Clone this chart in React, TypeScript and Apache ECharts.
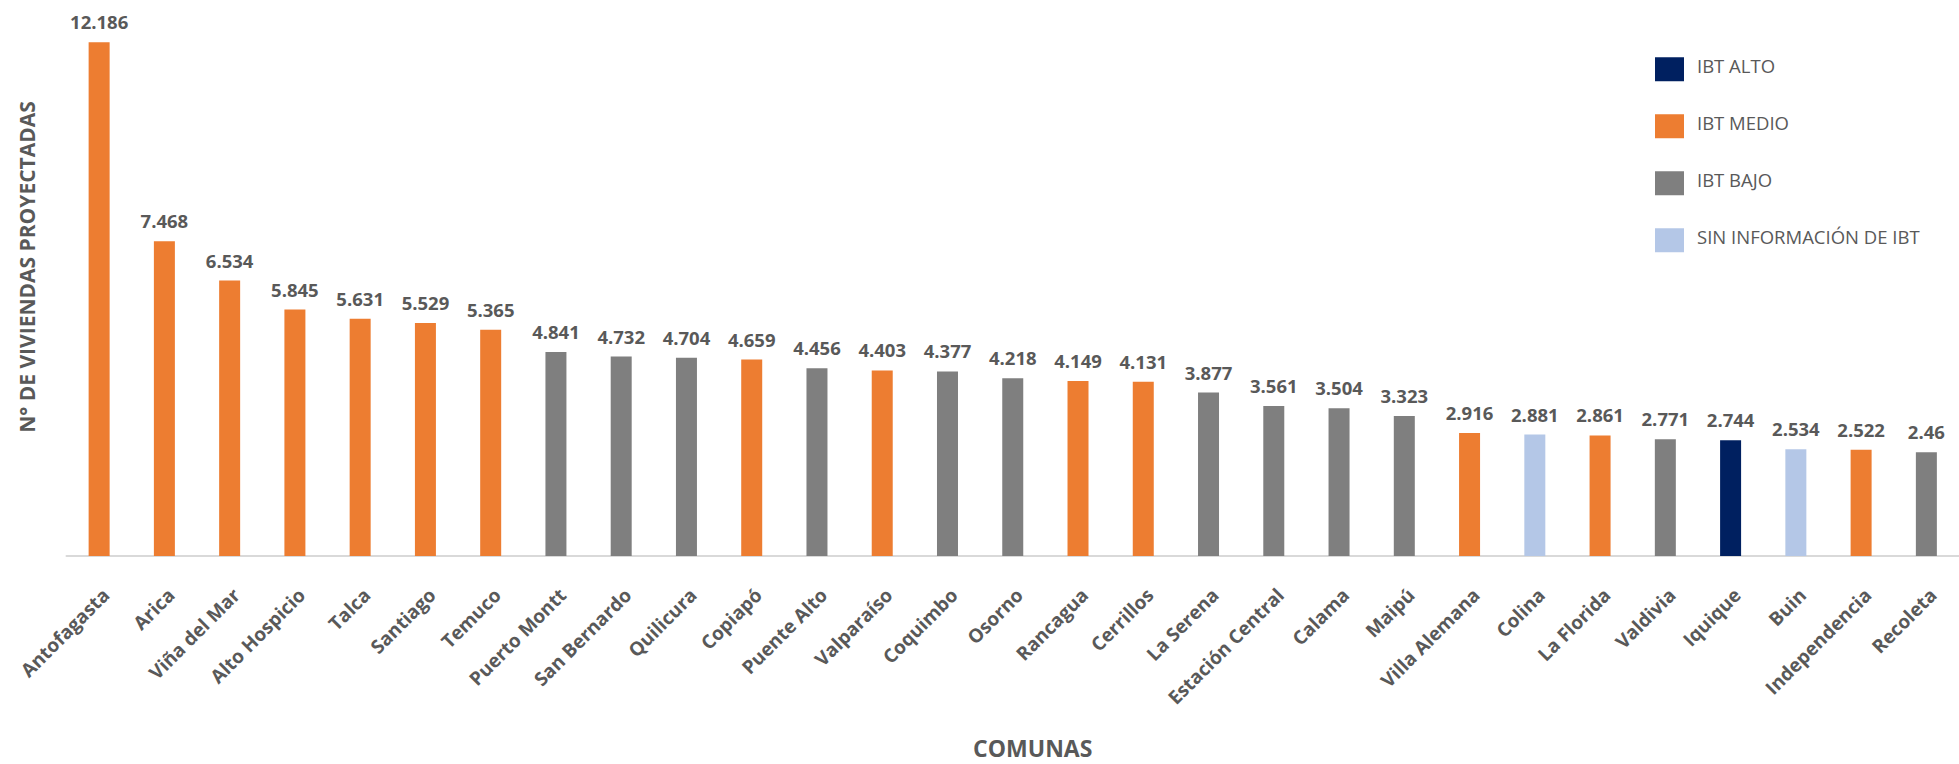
import React, { useEffect, useRef } from "react";
import * as echarts from "echarts";

const comunas = [
  "Antofagasta", "Arica", "Viña del Mar", "Alto Hospicio", "Talca", "Santiago", "Temuco",
  "Puerto Montt", "San Bernardo", "Quilicura", "Copiapó", "Puente Alto", "Valparaíso",
  "Coquimbo", "Osorno", "Rancagua", "Cerrillos", "La Serena", "Estación Central", "Calama",
  "Maipú", "Villa Alemana", "Colina", "La Florida", "Valdivia", "Iquique", "Buin",
  "Independencia", "Recoleta",
];

const viviendas = [
  12.186, 7.468, 6.534, 5.845, 5.631, 5.529, 5.365,
  4.841, 4.732, 4.704, 4.659, 4.456, 4.403,
  4.377, 4.218, 4.149, 4.131, 3.877, 3.561, 3.504,
  3.323, 2.916, 2.881, 2.861, 2.771, 2.744, 2.534,
  2.522, 2.46,
];

const ibtGrupo = [
  "IBT MEDIO", "IBT MEDIO", "IBT MEDIO", "IBT MEDIO", "IBT MEDIO", "IBT MEDIO", "IBT MEDIO",
  "IBT BAJO", "IBT BAJO", "IBT BAJO", "IBT MEDIO", "IBT BAJO", "IBT MEDIO",
  "IBT BAJO", "IBT BAJO", "IBT MEDIO", "IBT MEDIO", "IBT BAJO", "IBT BAJO", "IBT BAJO",
  "IBT BAJO", "IBT MEDIO", "SIN INFORMACIÓN DE IBT", "IBT MEDIO", "IBT BAJO", "IBT ALTO",
  "SIN INFORMACIÓN DE IBT", "IBT MEDIO", "IBT BAJO",
];

const grupos = ["IBT ALTO", "IBT MEDIO", "IBT BAJO", "SIN INFORMACIÓN DE IBT"];
const grupoColores = ["#002060", "#ED7D31", "#7F7F7F", "#B4C7E7"];

const FONT = "'Open Sans', sans-serif";
const TEXT = "#595959";

export default function App() {
  const ref = useRef<HTMLDivElement>(null);

  useEffect(() => {
    if (!ref.current) return;
    const chart = echarts.init(ref.current, undefined, { renderer: "svg" });

    const series = grupos.map((g, gi) => ({
      name: g,
      type: "bar",
      stack: "total",
      barWidth: 21,
      itemStyle: { color: grupoColores[gi] },
      label: {
        show: true,
        position: "top",
        distance: 11,
        color: TEXT,
        fontFamily: FONT,
        fontWeight: "bold",
        fontSize: 18.5,
      },
      data: viviendas.map((v, i) => (ibtGrupo[i] === g ? v : null)),
    }));

    chart.setOption({
      animation: false,
      textStyle: { fontFamily: FONT },
      grid: { left: 66.5, top: 8, width: 1911, bottom: 195, containLabel: false },
      legend: {
        orient: "vertical",
        left: 1650,
        top: 50.75,
        itemWidth: 29,
        itemHeight: 24,
        itemGap: 31.5,
        icon: "rect",
        data: grupos,
        formatter: (name: string) => `{t|${name}}`,
        textStyle: {
          color: TEXT,
          fontSize: 18.5,
          fontFamily: FONT,
          padding: [0, 0, 0, 8],
          rich: {
            t: {
              color: TEXT,
              fontSize: 18.5,
              fontFamily: FONT,
              padding: [0, 0, 8, 0],
            },
          },
        },
      },
      xAxis: {
        type: "category",
        data: comunas,
        name: "COMUNAS",
        nameLocation: "middle",
        nameGap: 180,
        nameTextStyle: {
          color: TEXT,
          fontSize: 23,
          fontWeight: "bold",
          fontFamily: FONT,
          padding: [0, 0, 0, 40],
        },
        axisLine: { lineStyle: { color: "#D9D9D9", width: 2 } },
        axisTick: { show: false },
        axisLabel: {
          interval: 0,
          rotate: 45,
          margin: 29,
          verticalAlign: "top",
          color: TEXT,
          fontSize: 19,
          fontWeight: "bold",
          fontFamily: FONT,
        },
      },
      yAxis: {
        type: "value",
        min: 0,
        max: 13,
        name: "N° DE VIVIENDAS PROYECTADAS",
        nameLocation: "middle",
        nameRotate: 90,
        nameGap: 29,
        nameTextStyle: {
          color: TEXT,
          fontSize: 21,
          fontWeight: "bold",
          fontFamily: FONT,
          padding: [0, 0, 0, 30],
        },
        axisLine: { show: false },
        axisTick: { show: false },
        axisLabel: { show: false },
        splitLine: { show: false },
      },
      series,
    });

    return () => chart.dispose();
  }, []);

  return (
    <div
      ref={ref}
      style={{ position: "absolute", left: 0, top: 0, width: 1959, height: 764, background: "#fff" }}
    />
  );
}
